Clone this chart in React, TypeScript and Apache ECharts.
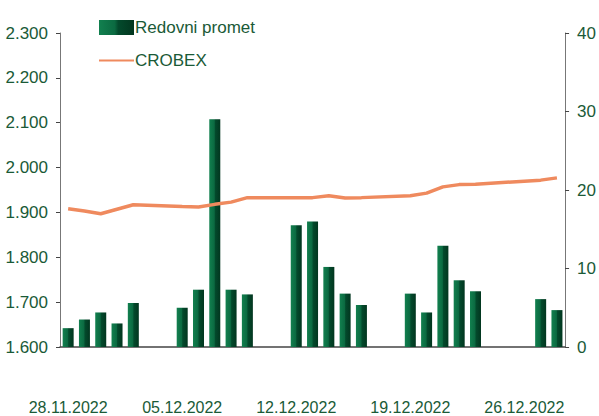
import React, { useEffect, useRef } from "react";
import * as echarts from "echarts";

const categories = [
  "28.11.2022", "29.11.2022", "30.11.2022", "01.12.2022", "02.12.2022", "03.12.2022", "04.12.2022",
  "05.12.2022", "06.12.2022", "07.12.2022", "08.12.2022", "09.12.2022", "10.12.2022", "11.12.2022",
  "12.12.2022", "13.12.2022", "14.12.2022", "15.12.2022", "16.12.2022", "17.12.2022", "18.12.2022",
  "19.12.2022", "20.12.2022", "21.12.2022", "22.12.2022", "23.12.2022", "24.12.2022", "25.12.2022",
  "26.12.2022", "27.12.2022", "28.12.2022",
];

const redovniPromet = [
  2.4, 3.5, 4.4, 3.0, 5.6, null, null,
  5.0, 7.3, 29.0, 7.3, 6.7, null, null,
  15.5, 16.0, 10.2, 6.8, 5.35, null, null,
  6.8, 4.4, 12.9, 8.5, 7.1, null, null,
  null, 6.1, 4.7,
];

const crobex = [
  1908, 1903, 1897, 1907, 1917, null, null,
  1913, 1912, 1918, 1923, 1933, null, null,
  1933, 1933, 1937, 1932, 1933, null, null,
  1937, 1943, 1957, 1962, 1963, null, null,
  null, 1972, 1977,
];

const leftTicks = { min: 1600, max: 2300, interval: 100 };
const rightTicks = { min: 0, max: 40, interval: 10 };

const FONT = "'Liberation Sans Narrow', 'Liberation Sans', Arial, sans-serif";
const TEXT = "#1a5a37";
const FS = 16;

export default function App() {
  const ref = useRef<HTMLDivElement>(null);
  useEffect(() => {
    if (!ref.current) return;
    const chart = echarts.init(ref.current, null, { renderer: "svg" });
    const barGrad = new echarts.graphic.LinearGradient(0, 0, 1, 0, [
      { offset: 0, color: "#12804f" },
      { offset: 0.45, color: "#0b6a41" },
      { offset: 0.55, color: "#034a2c" },
      { offset: 1, color: "#02361f" },
    ]);
    chart.setOption({
      animation: false,
      textStyle: { fontFamily: FONT },
      grid: { left: 60, right: 31, top: 33, bottom: 69, containLabel: false },
      legend: {
        orient: "vertical",
        left: 93,
        top: 14,
        itemWidth: 35,
        itemHeight: 15,
        itemGap: 16,
        textStyle: { fontFamily: FONT, fontSize: FS + 1, lineHeight: 15, color: TEXT, padding: [0, 0, 0, -4] },
        data: [
          { name: "Redovni promet", icon: "rect" },
          { name: "CROBEX", itemStyle: { opacity: 0 } },
        ],
      },
      xAxis: {
        type: "category",
        data: categories,
        boundaryGap: true,
        axisLine: { lineStyle: { color: "#444", width: 1.5 } },
        axisTick: { interval: 6, length: 8, lineStyle: { color: "#888" } },
        axisLabel: { interval: 6, margin: 52, fontSize: FS, color: TEXT, fontFamily: FONT },
        splitLine: { show: false },
      },
      yAxis: [
        {
          type: "value",
          ...leftTicks,
          position: "left",
          axisLine: { show: true, lineStyle: { color: "#777" } },
          axisTick: { show: true, length: 4, lineStyle: { color: "#444" } },
          axisLabel: {
            margin: 12,
            fontSize: FS + 1,
            color: TEXT,
            fontFamily: FONT,
            formatter: (v: number) => (v / 1000).toFixed(3),
          },
          splitLine: { show: false },
        },
        {
          type: "value",
          ...rightTicks,
          position: "right",
          axisLine: { show: true, lineStyle: { color: "#777" } },
          axisTick: { show: true, length: 4, lineStyle: { color: "#444" } },
          axisLabel: { margin: 12, fontSize: FS + 1, color: TEXT, fontFamily: FONT },
          splitLine: { show: false },
        },
      ],
      series: [
        {
          name: "Redovni promet",
          type: "bar",
          yAxisIndex: 1,
          data: redovniPromet,
          barWidth: 11,
          itemStyle: { color: barGrad },
        },
        {
          name: "CROBEX",
          type: "line",
          yAxisIndex: 0,
          data: crobex,
          connectNulls: true,
          symbol: "none",
          lineStyle: { color: "#ef8a5e", width: 3.5 },
          itemStyle: { color: "#ef8a5e" },
          z: 3,
        },
      ],
    });
    return () => chart.dispose();
  }, []);
  return <div ref={ref} style={{ width: 599, height: 416, position: "absolute", left: 0, top: 0 }} />;
}
